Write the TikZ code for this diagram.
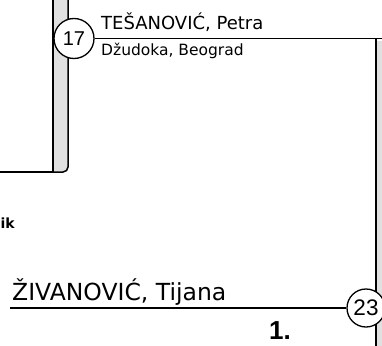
\documentclass[tikz,border=0pt]{standalone}
\usepackage{fontspec}
\setmainfont{DejaVu Sans}
\newfontfamily\numfont{Liberation Sans}
\definecolor{shadowgray}{HTML}{E0E0E0}
\begin{document}
\begin{tikzpicture}[x=1pt,y=-1pt,
  ln/.style={draw=black, line width=1.5pt},
  circ/.style={circle, draw=black, line width=1.3pt, fill=white, inner sep=0pt, font=\numfont\fontsize{20}{20}\selectfont},
  lbl/.style={anchor=base west, inner sep=0pt}]
\useasboundingbox (0,0) rectangle (382,345);
\clip (0,0) rectangle (382,345);
% left box with shadow strip
\draw[ln, fill=shadowgray, rounded corners=5pt] (40,-10) rectangle (68,172);
\draw[ln, fill=white] (-10,-10) rectangle (53,172);
% right box shadow
\fill[shadowgray] (376,41) rectangle (395,360);
\coordinate (rtop) at (376,38.5);
\coordinate (rend) at (392,38.5);
\coordinate (rbot) at (376,360);
\draw[ln] (rtop) -- (rbot);
% circle 17
\node[circ, minimum size=40pt] (c17) at (74,38.5) {17};
\draw[ln] (c17.east) -- (rend);
\node[lbl, font=\fontsize{18}{18}\selectfont] (n17) at (101,30) {TEŠANOVIĆ, Petra};
\node[lbl, font=\fontsize{15.5}{16}\selectfont] (s17) at (101,56) {Džudoka, Beograd};
% fragment
\node[anchor=base east, inner sep=0pt, font=\bfseries\fontsize{14}{14}\selectfont] (frag) at (15,228) {ik};
% circle 23
\node[circ, minimum size=38pt, font=\numfont\fontsize{22.5}{22.5}\selectfont] (c23) at (366,308) {23};
\coordinate (zl) at (10,308);
\draw[ln] (zl) -- (c23.west);
\node[lbl, font=\fontsize{23.5}{24}\selectfont] (n23) at (12,300) {ŽIVANOVIĆ, Tijana};
\node[lbl, font=\numfont\bfseries\fontsize{26}{26}\selectfont] (rank) at (269,339) {1.};
\end{tikzpicture}
\end{document}
